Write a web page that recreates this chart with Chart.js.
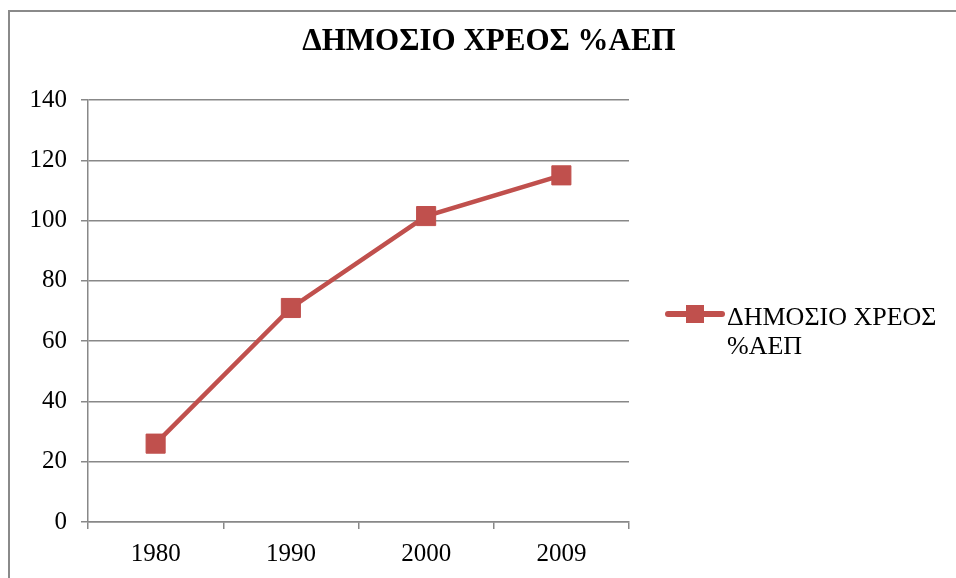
<!DOCTYPE html>
<html>
<head>
<meta charset="utf-8">
<script src="https://cdn.jsdelivr.net/npm/chart.js@4"></script>
<style>
  body { margin: 0; background: #fff; }
  #wrap { position: relative; width: 956px; height: 578px; overflow: hidden; }
  #frame { position: absolute; left: 8px; top: 10px; width: 960px; height: 600px;
           border-top: 2px solid #8a8a8a; border-left: 2px solid #8a8a8a; }
  canvas { position: absolute; left: 0; top: 0; }
</style>
</head>
<body>
<div id="wrap">
  <div id="frame"></div>
  <canvas id="chart" width="956" height="578"></canvas>
</div>
<script>
var title = "ΔΗΜΟΣΙΟ ΧΡΕΟΣ %ΑΕΠ";
var years = ["1980", "1990", "2000", "2009"];
var debt = [26, 71, 101.5, 115];
var seriesName = "ΔΗΜΟΣΙΟ ΧΡΕΟΣ %ΑΕΠ";
var red = "#C0504D";
var grey = "#888888";
var serif = "'Liberation Serif', 'Times New Roman', serif";

// title and legend drawn by hand so the legend text can wrap like the original
var extras = {
    id: "extras",
    afterDraw: function (chart) {
        var ctx = chart.ctx;
        var area = chart.chartArea;
        ctx.save();
        ctx.fillStyle = "#000";
        ctx.font = "bold 31px " + serif;
        ctx.textAlign = "center";
        ctx.textBaseline = "alphabetic";
        ctx.fillText(title, 489, 50);

        // legend
        var lx = area.right + 39;
        var ly = 314;
        ctx.strokeStyle = red;
        ctx.lineWidth = 6;
        ctx.lineCap = "round";
        ctx.beginPath();
        ctx.moveTo(lx, ly);
        ctx.lineTo(lx + 54, ly);
        ctx.stroke();
        ctx.fillStyle = red;
        ctx.fillRect(lx + 18, ly - 9, 18, 18);

        ctx.font = "26px " + serif;
        ctx.textAlign = "left";
        ctx.fillStyle = "#000";
        var words = seriesName.split(" ");
        var lines = [], cur = "";
        var maxW = chart.width - (lx + 59) - 6;
        words.forEach(function (w) {
            var t = cur ? cur + " " + w : w;
            if (ctx.measureText(t).width > maxW && cur) { lines.push(cur); cur = w; }
            else cur = t;
        });
        lines.push(cur);
        lines.forEach(function (l, i) {
            ctx.fillText(l, lx + 59, ly + 11 + i * 29);
        });
        ctx.restore();
    }
};

var ctx = document.getElementById("chart");
var chartGraph = new Chart(ctx, {
    type: "line",
    data: {
        labels: years,
        datasets: [{
            label: seriesName,
            data: debt,
            borderColor: red,
            backgroundColor: red,
            borderWidth: 4.5,
            pointStyle: "rect",
            pointRadius: 13.5,
            pointHoverRadius: 13.5,
            pointBorderWidth: 1,
            pointBackgroundColor: red,
            pointBorderColor: red,
            tension: 0
        }]
    },
    options: {
        responsive: false,
        animation: false,
        layout: { padding: { left: 8, top: 100, right: 327, bottom: 0 } },
        plugins: {
            legend: { display: false },
            title: { display: false },
            tooltip: { enabled: false }
        },
        scales: {
            x: {
                offset: true,
                afterFit: function (s) { s.height = 56; },
                grid: { offset: true, drawOnChartArea: false, drawTicks: true, tickLength: 7, color: grey, lineWidth: 1.5 },
                border: { color: grey, width: 1.5 },
                ticks: { color: "#000", font: { family: serif, size: 25 }, padding: 10 }
            },
            y: {
                min: 0,
                max: 140,
                afterFit: function (s) { s.width = 80; },
                grid: { color: grey, lineWidth: 1.5, tickLength: 7 },
                border: { color: grey, width: 1.5 },
                ticks: { stepSize: 20, color: "#000", font: { family: serif, size: 25 }, padding: 14 }
            }
        }
    },
    plugins: [extras]
});
</script>
</body>
</html>
